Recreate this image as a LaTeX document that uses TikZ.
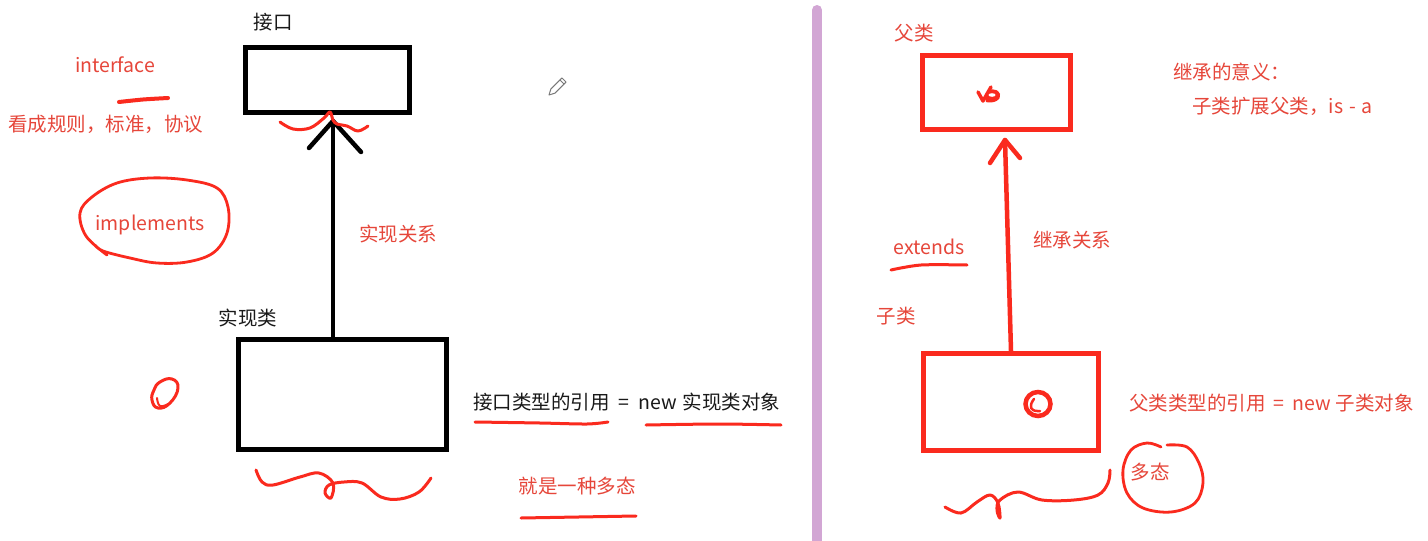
\documentclass[tikz,border=0pt]{standalone}
\usepackage{fontspec}
\setmainfont{Noto Sans CJK SC}
\definecolor{textred}{RGB}{230,70,58}
\definecolor{inkred}{RGB}{250,42,30}
\definecolor{txtblack}{RGB}{25,25,25}
\definecolor{divider}{RGB}{210,166,212}
\definecolor{pencil}{RGB}{120,120,120}
\tikzset{
  rtxt/.style={text=textred,inner sep=0pt,font=\fontsize{19.5}{23}\selectfont},
  ktxt/.style={text=txtblack,inner sep=0pt,font=\fontsize{19.5}{23}\selectfont},
  blackbox/.style={draw=black,line width=5pt,inner sep=0pt},
  redbox/.style={draw=inkred,line width=5pt,inner sep=0pt},
  blkarrow/.style={draw=black,line width=4.5pt,line cap=round,line join=round},
  redarrow/.style={draw=inkred,line width=4.5pt,line cap=round,line join=round},
  ink/.style={draw=inkred,line width=3pt,line cap=round,line join=round},
}
\begin{document}
\begin{tikzpicture}[x=1pt,y=-1pt]
\useasboundingbox (0,0) rectangle (1428,541);
\fill[white] (0,0) rectangle (1428,541);

% divider
\draw[divider,line width=10pt,line cap=round] (817,10) -- (817,545);

% ===== left side =====
\node[ktxt] (lblif) at (273,22) {接口};
\node[blackbox,minimum width=164pt,minimum height=65pt] (iface) at (327.5,80) {};
\node[rtxt] (tif) at (115,65) {interface};
\draw[ink,line width=4pt] plot[smooth] coordinates {(119,102) (143,99.5) (168,98)};
\node[rtxt,anchor=west] (trule) at (8,124) {看成规则，标准，协议};
\node[rtxt] (timpl) at (150,225) {implements};
\draw[ink,line width=2.8pt] plot[smooth,tension=0.6] coordinates {(107,255) (86,236) (80,213) (92,197) (117,183) (150,178) (187,180) (217,188) (228,207) (227,233) (213,253) (187,262) (157,263) (130,258) (103,251) (95,245)};

\node[ktxt] (lblimpl) at (248,318) {实现类};
\node[blackbox,minimum width=208pt,minimum height=110pt] (impl) at (342.5,394.5) {};
\coordinate (bapex) at (333,121);
\draw[blkarrow] (impl.north -| bapex) -- (bapex);
\draw[blkarrow] ([shift={(-24,27)}]bapex) -- (bapex) -- ([shift={(28,31)}]bapex);
\draw[ink] plot[smooth,tension=0.6] coordinates {(280,122) (293,129) (310,128) (324,118) (330,112) (333,120) (337,124) (347,126) (358,131) (368,126)};
\node[rtxt] (trel) at (398,234) {实现关系};

\node[ktxt,anchor=west] (tref) at (473,402) {接口类型的引用\hspace{9pt}=\hspace{9pt}new\hspace{6pt}实现类对象};
\draw[ink] plot[smooth] coordinates {(475,422) (540,423) (587,424) (608,422)};
\draw[ink] plot[smooth] coordinates {(646,425) (719,424) (781,425)};
\draw[ink] plot[smooth,tension=0.6] coordinates {(256,470) (262,482) (273,485) (300,477) (319,473) (333,483) (331,498) (325,493) (329,485) (344,482) (362,483) (381,497) (400,499) (419,492) (431,478)};
\node[rtxt] (tpoly) at (577,486) {就是一种多态};
\draw[ink] (521,518) -- (636,516);
% small circle
\draw[ink,line width=3pt] plot[smooth cycle,tension=0.8] coordinates {(160,382) (172,379) (178,388) (170,403) (158,408) (152,400) (154,390)};
\draw[ink,line width=2pt] plot[smooth,tension=0.8] coordinates {(157,398) (160,406) (168,404)};

% pencil icon
\draw[pencil,line width=1pt,line join=round] (561.9,77.9) -- (566.1,82.1) -- (555.1,93.1) -- (549,95) -- (550.9,88.9) -- cycle;
\draw[pencil,line width=1pt] (560,80) -- (564,84);

% ===== right side =====
\node[rtxt] (lblpar) at (914,33) {父类};
\node[redbox,minimum width=148pt,minimum height=74pt] (parent) at (996.5,92.5) {};
\fill[inkred] (985,95) .. controls (987,88) and (997,87) .. (1000,94) .. controls (1002,100) and (993,104) .. (986,102) -- cycle;
\draw[ink,line width=3.5pt] (978,92) -- (983,101) -- (991,87);
\fill[white] (992,95) ellipse (3.5pt and 1.8pt);
\node[rtxt,anchor=west] (tmean) at (1173,72) {继承的意义：};
\node[rtxt,anchor=west] (tisa) at (1192,106) {子类扩展父类，is\hspace{6pt}-\hspace{6pt}a};

\node[rtxt] (lblchild) at (896,316) {子类};
\node[redbox,minimum width=175pt,minimum height=97pt] (child) at (1011,402) {};
\coordinate (rapex) at (1005,140);
\draw[redarrow] (child.north) -- (rapex);
\draw[redarrow] ([shift={(-15,23)}]rapex) -- (rapex) -- ([shift={(15,18)}]rapex);
\node[rtxt] (text) at (1072,240) {继承关系};
\node[rtxt] (textends) at (929,247) {extends};
\draw[ink] plot[smooth] coordinates {(891,270) (921,265) (967,265)};

\draw[inkred,line width=4.5pt] (1038,404) ellipse (12.5pt and 12pt);
\draw[ink,line width=2.5pt] plot[smooth,tension=0.8] coordinates {(1034,399) (1031,405) (1033,410) (1040,411)};
\node[rtxt,anchor=west] (tref2) at (1129,403) {父类类型的引用\hspace{8pt}=\hspace{8pt}new\hspace{5pt}子类对象};

\node[rtxt] (tpoly2) at (1150,472) {多态};
\draw[ink,line width=2.8pt] plot[smooth,tension=0.6] coordinates {(1167,445) (1187,447) (1199,463) (1203,483) (1195,503) (1171,512) (1143,508) (1127,493) (1123,470) (1131,450) (1147,443) (1161,447)};
\draw[ink] plot[smooth,tension=0.6] coordinates {(945,507) (961,513) (977,502) (990,495) (998,503) (1000,518) (997,510) (1000,500) (1018,492) (1042,500) (1074,500) (1098,495) (1108,483) (1110,470)};
\end{tikzpicture}
\end{document}
